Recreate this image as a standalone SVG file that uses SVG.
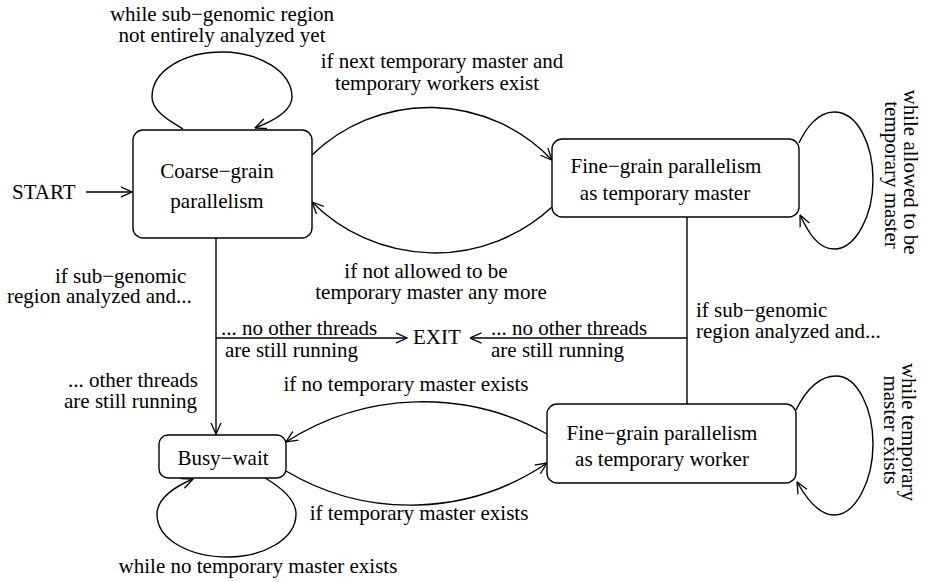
<svg xmlns="http://www.w3.org/2000/svg" width="928" height="582" viewBox="0 0 928 582" font-family="'Liberation Serif', 'Times New Roman', serif">
  <style>
    text { font-family: 'Liberation Serif', 'Times New Roman', serif; font-size: 21px; fill: #000; }
    .c { text-anchor: middle; }
    .node rect { fill: #fff; stroke: #000; stroke-width: 1.4; }
    .edge { fill: none; stroke: #000; stroke-width: 1.4; }
    .arr { marker-end: url(#arrow); }
  </style>
  <defs>
    <marker id="arrow" viewBox="0 0 12 12" refX="11.5" refY="6" markerWidth="12" markerHeight="12" markerUnits="userSpaceOnUse" orient="auto">
      <path d="M0,0.8 L11.5,6 L0,11.2" fill="none" stroke="#000" stroke-width="1.3"/>
    </marker>
  </defs>
  <rect width="928" height="582" fill="#fff"/>

  <!-- connectors -->
  <g id="connectors">
    <!-- START entry -->
    <path class="edge arr" d="M86,192 L132,192"/>
    <!-- coarse self loop -->
    <path class="edge arr" d="M183,129 C172,122 152,112 152,97 C152,70 185,52 222,52 C260,52 292,72 292,97 C292,110 276,120 255,128"/>
    <!-- coarse to master -->
    <path class="edge arr" d="M312,155 A169,169 0 0 1 552,160"/>
    <!-- master back to coarse -->
    <path class="edge arr" d="M552,207 A173,173 0 0 1 312,202"/>
    <!-- master self loop -->
    <path class="edge arr" d="M799,143 C806,128 818,112 834,112 C858,112 873,145 873,180 C873,215 856,249 834,249 C818,249 808,232 800,215"/>
    <!-- coarse down to busy-wait, with branch to EXIT -->
    <path class="edge arr" d="M216,238 L216,434"/>
    <path class="edge arr" d="M216,338 L407,338"/>
    <!-- master down to worker, with branch to EXIT -->
    <path class="edge" d="M687,217 L687,404"/>
    <path class="edge arr" d="M687,338 L470,338"/>
    <!-- worker to busy-wait -->
    <path class="edge arr" d="M547,434 A254,254 0 0 0 286,442"/>
    <!-- busy-wait to worker -->
    <path class="edge arr" d="M286,471 A243,243 0 0 0 547,463"/>
    <!-- busy-wait self loop -->
    <path class="edge arr" d="M265,478 C282,488 296,500 296,514 C296,540 262,557 228,557 C190,557 157,540 157,514 C157,498 176,486 193,479"/>
    <!-- worker self loop -->
    <path class="edge arr" d="M796,410 C805,392 818,376 836,376 C858,376 873,410 873,444 C873,480 856,515 834,515 C818,515 806,498 797,482"/>
  </g>

  <!-- nodes -->
  <g id="coarse" class="node">
    <rect x="133" y="130" width="179" height="108" rx="10"/>
    <text class="c" x="217" y="178">Coarse−grain</text>
    <text class="c" x="217" y="208">parallelism</text>
  </g>
  <g id="master" class="node">
    <rect x="552" y="139" width="247" height="78" rx="10"/>
    <text class="c" x="666" y="173">Fine−grain parallelism</text>
    <text class="c" x="665" y="200">as temporary master</text>
  </g>
  <g id="busywait" class="node">
    <rect x="159" y="435" width="127" height="43" rx="9"/>
    <text class="c" x="223" y="465">Busy−wait</text>
  </g>
  <g id="worker" class="node">
    <rect x="547" y="404" width="249" height="79" rx="10"/>
    <text class="c" x="662" y="440">Fine−grain parallelism</text>
    <text class="c" x="662" y="466">as temporary worker</text>
  </g>
  <g id="start">
    <text x="12" y="199">START</text>
  </g>
  <g id="exit">
    <text x="413" y="344">EXIT</text>
  </g>

  <!-- transition labels -->
  <g id="labels">
    <text class="c" x="222" y="21">while sub−genomic region</text>
    <text class="c" x="222" y="42">not entirely analyzed yet</text>

    <text class="c" x="442" y="68">if next temporary master and</text>
    <text class="c" x="437" y="90">temporary workers exist</text>

    <text class="c" x="426" y="278">if not allowed to be</text>
    <text class="c" x="431" y="299">temporary master any more</text>

    <text x="55" y="283">if sub−genomic</text>
    <text x="7" y="303">region analyzed and...</text>

    <text x="221" y="335">... no other threads</text>
    <text x="225" y="357">are still running</text>

    <text x="68" y="387">... other threads</text>
    <text x="64" y="408">are still running</text>

    <text x="491" y="335">... no other threads</text>
    <text x="491" y="357">are still running</text>

    <text x="696" y="317">if sub−genomic</text>
    <text x="696" y="338">region analyzed and...</text>

    <text class="c" x="406" y="391">if no temporary master exists</text>
    <text class="c" x="419" y="520">if temporary master exists</text>
    <text class="c" x="258" y="573">while no temporary master exists</text>

    <text class="c" transform="translate(904,172) rotate(90)">while allowed to be</text>
    <text class="c" transform="translate(885,175) rotate(90)">temporary master</text>

    <text class="c" transform="translate(902,432) rotate(90)">while temporary</text>
    <text class="c" transform="translate(884,430) rotate(90)">master exists</text>
  </g>
</svg>
